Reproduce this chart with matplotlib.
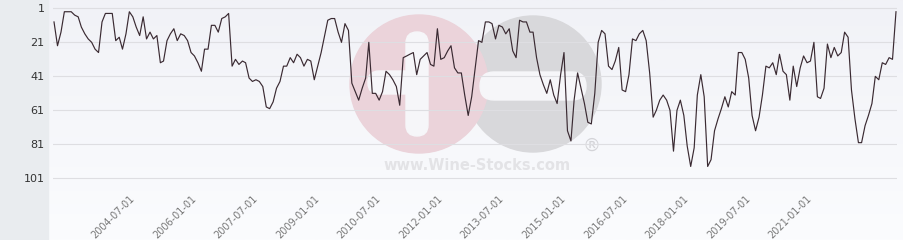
import numpy as np
import pandas as pd
import matplotlib
matplotlib.use("Agg")
import matplotlib.pyplot as plt
from matplotlib.patches import Circle, FancyBboxPatch, Rectangle

# monthly ranking (lower is better)
start_month = "2002-07-01"
rank = [
    9, 23, 15, 3, 3, 3, 5, 6, 12, 16, 19, 21, 25, 27, 9, 4, 4, 4, 20, 18,
    25, 16, 3, 6, 12, 17, 6, 19, 15, 19, 17, 33, 32, 20, 16, 13, 20, 16, 17, 20,
    27, 29, 33, 38, 25, 25, 11, 11, 15, 7, 6, 4, 35, 31, 34, 32, 33, 42, 44, 43,
    44, 47, 59, 60, 56, 48, 44, 35, 35, 30, 33, 28, 30, 35, 31, 32, 43, 35, 27, 17,
    8, 7, 7, 15, 21, 10, 14, 45, 50, 55, 48, 42, 21, 51, 51, 55, 50, 38, 40, 43,
    47, 58, 30, 29, 28, 27, 40, 31, 29, 27, 34, 35, 13, 31, 30, 26, 23, 36, 39, 39,
    52, 64, 53, 37, 20, 21, 9, 9, 10, 19, 11, 12, 16, 13, 26, 30, 8, 9, 9, 15,
    15, 30, 40, 46, 51, 43, 52, 57, 40, 27, 73, 79, 55, 39, 48, 57, 68, 69, 51, 21,
    14, 16, 35, 37, 32, 24, 49, 50, 40, 19, 20, 16, 14, 20, 39, 65, 61, 55, 52, 55,
    61, 85, 61, 55, 64, 82, 94, 83, 52, 40, 53, 94, 90, 73, 66, 60, 53, 59, 50, 52,
    27, 27, 31, 42, 64, 73, 65, 52, 35, 36, 33, 40, 28, 38, 40, 55, 35, 47, 36, 29,
    33, 32, 21, 53, 54, 48, 22, 30, 24, 29, 27, 15, 18, 49, 66, 80, 80, 70, 64, 57,
    41, 43, 33, 34, 30, 31, 3,
]
y_ticks = [1, 21, 41, 61, 81, 101]
x_tick_start = "2004-07-01"
x_tick_end = "2021-01-01"

dates = pd.date_range(start_month, periods=len(rank), freq="MS")
x_ticks = pd.date_range(x_tick_start, x_tick_end, freq="18MS")

W, H = 904, 240
fig = plt.figure(figsize=(W / 100, H / 100), dpi=100)
fig.patch.set_facecolor("#f8f9fb")

# background layer in pixel coordinates: side strip, gradient, watermark
bg = fig.add_axes([0, 0, 1, 1], zorder=0)
bg.set_xlim(0, W)
bg.set_ylim(H, 0)
bg.axis("off")
grad = np.linspace(0, 1, 100).reshape(-1, 1)
bg.imshow(grad, extent=[48, W, H, 0], aspect="auto",
          cmap=matplotlib.colors.LinearSegmentedColormap.from_list("g", ["#f1f2f7", "#fbfcfe"]))
bg.add_patch(Rectangle((0, 0), 48, H, color="#e9ecef", zorder=2))

hole = "#f6f6f9"
bg.add_patch(Circle((533, 84), 68, color="#d8d8db", zorder=3))
bg.add_patch(Circle((419, 84), 69, color="#ebd3da", zorder=4))
bg.add_patch(FancyBboxPatch((406, 32), 22, 104, boxstyle="round,pad=0,rounding_size=11",
                            color=hole, zorder=5))
bg.add_patch(FancyBboxPatch((368, 71), 50, 23, boxstyle="round,pad=0,rounding_size=11",
                            color=hole, zorder=5))
bg.add_patch(FancyBboxPatch((480, 72), 106, 28, boxstyle="round,pad=0,rounding_size=14",
                            color=hole, zorder=5))
bg.text(592, 146, "®", fontsize=13, color="#d4d4d8", ha="center", va="center", zorder=6)
bg.text(477, 166, "www.Wine-Stocks.com", fontsize=10.5, fontweight="bold",
        color="#e3e3e6", ha="center", va="center", zorder=6)

# main chart
ax = fig.add_axes([53 / W, 1 - 185 / H, (897 - 53) / W, 185 / H], zorder=1)
ax.patch.set_alpha(0)
ax.plot(dates, rank, color="#3a2a32", lw=0.85)

ax.set_ylim(104.9, -3.9)
ax.set_yticks(y_ticks)
ax.set_yticklabels([str(v) for v in y_ticks])
pad = pd.Timedelta(days=9)
ax.set_xlim(dates[0] - pad, dates[-1] + pad)
ax.set_xticks(x_ticks)
ax.set_xticklabels([d.strftime("%Y-%m-%d") for d in x_ticks], rotation=45,
                   ha="right", va="top")

ax.grid(axis="y", color="#dedee2", lw=0.8)
ax.grid(axis="x", visible=False)
for s in ax.spines.values():
    s.set_visible(False)
ax.tick_params(axis="y", length=0, pad=6, labelsize=8, labelcolor="#333333")
ax.tick_params(axis="x", length=0, pad=6, labelsize=7, labelcolor="#777777")

fig.savefig("out.png", dpi=100, facecolor=fig.get_facecolor())
